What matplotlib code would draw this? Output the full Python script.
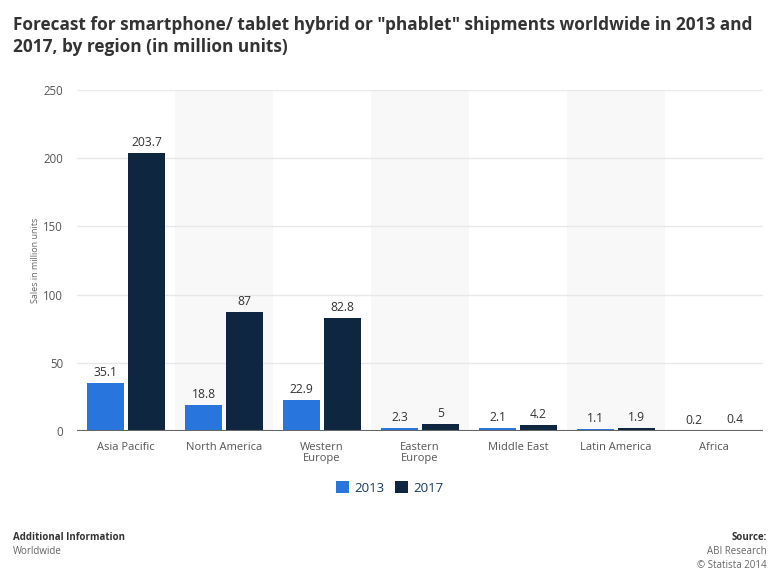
import matplotlib
matplotlib.use("Agg")
import matplotlib.pyplot as plt
import numpy as np

categories = ["Asia Pacific", "North America", "Western\nEurope", "Eastern\nEurope",
              "Middle East", "Latin America", "Africa"]
v2013 = [35.1, 18.8, 22.9, 2.3, 2.1, 1.1, 0.2]
v2017 = [203.7, 87, 82.8, 5, 4.2, 1.9, 0.4]
labels2013 = ["35.1", "18.8", "22.9", "2.3", "2.1", "1.1", "0.2"]
labels2017 = ["203.7", "87", "82.8", "5", "4.2", "1.9", "0.4"]
series = ["2013", "2017"]
yticks = [0, 50, 100, 150, 200, 250]

c13 = "#2876dd"
c17 = "#0f2640"

plt.rcParams['font.family'] = ['Open Sans', 'DejaVu Sans']

fig = plt.figure(figsize=(7.8, 5.79), dpi=100)
ax = fig.add_axes([77/780, 1-431/579, 686/780, 341/579])

x = np.arange(len(categories))
w = 0.377
off = w/2 + 0.02
ax.set_xlim(-0.5, len(categories)-0.5)
ax.set_ylim(0, 250)

for i in range(len(categories)):
    if i % 2 == 1:
        ax.axvspan(i-0.5, i+0.5, color="#f8f8f8", zorder=0, lw=0)

for t in yticks[1:]:
    ax.axhline(t, color="#e8e8e8", lw=1, zorder=1)

b1 = ax.bar(x-off, v2013, w, color=c13, zorder=3, label=series[0])
b2 = ax.bar(x+off, v2017, w, color=c17, zorder=3, label=series[1])

for xi, v, l in zip(x-off, v2013, labels2013):
    ax.annotate(l, (xi, v), xytext=(0, 3), textcoords="offset points",
                ha="center", va="bottom", fontsize=8.7, color="#333333")
for xi, v, l in zip(x+off, v2017, labels2017):
    ax.annotate(l, (xi, v), xytext=(0, 3), textcoords="offset points",
                ha="center", va="bottom", fontsize=8.7, color="#333333")

ax.axhline(0, color="#666666", lw=1.5, zorder=4)
for s in ax.spines.values():
    s.set_visible(False)
ax.set_yticks(yticks)
ax.set_yticklabels([str(t) for t in yticks], fontsize=8.3, color="#555555")
ax.set_xticks(x)
ax.set_xticklabels(categories, fontsize=8, color="#555555", linespacing=1.0)
ax.tick_params(axis="both", length=0, pad=8)
ax.tick_params(axis="y", pad=10)
ax.set_ylabel("Sales in million units", fontsize=6.5, color="#666666")
ax.yaxis.set_label_coords((40-77)/686, 0.5)

fig.text(13/780, 1-16/579, 'Forecast for smartphone/ tablet hybrid or "phablet" shipments worldwide in 2013 and\n2017, by region (in million units)',
         fontsize=12.4, fontweight="bold", color="#333333", va="top", ha="left", linespacing=1.3)

leg = fig.legend(handles=[b1, b2], labels=series, loc="center", bbox_to_anchor=(0.5, 1-488/579),
                 ncol=2, frameon=False, fontsize=9.5, handlelength=1.0, handleheight=1.0,
                 handletextpad=0.4, columnspacing=0.8)
for t in leg.get_texts():
    t.set_color("#1a3a5c")

fig.text(13/780, 1-538/579, "Additional Information", fontsize=7, fontweight="bold", color="#333333", va="center")
fig.text(13/780, 1-552/579, "Worldwide", fontsize=7, color="#666666", va="center")
fig.text(767/780, 1-538/579, "Source:", fontsize=7, fontweight="bold", color="#333333", va="center", ha="right")
fig.text(767/780, 1-552/579, "ABI Research", fontsize=7, color="#666666", va="center", ha="right")
fig.text(767/780, 1-566/579, "© Statista 2014", fontsize=7, color="#666666", va="center", ha="right")

fig.savefig("out.png", dpi=100)
